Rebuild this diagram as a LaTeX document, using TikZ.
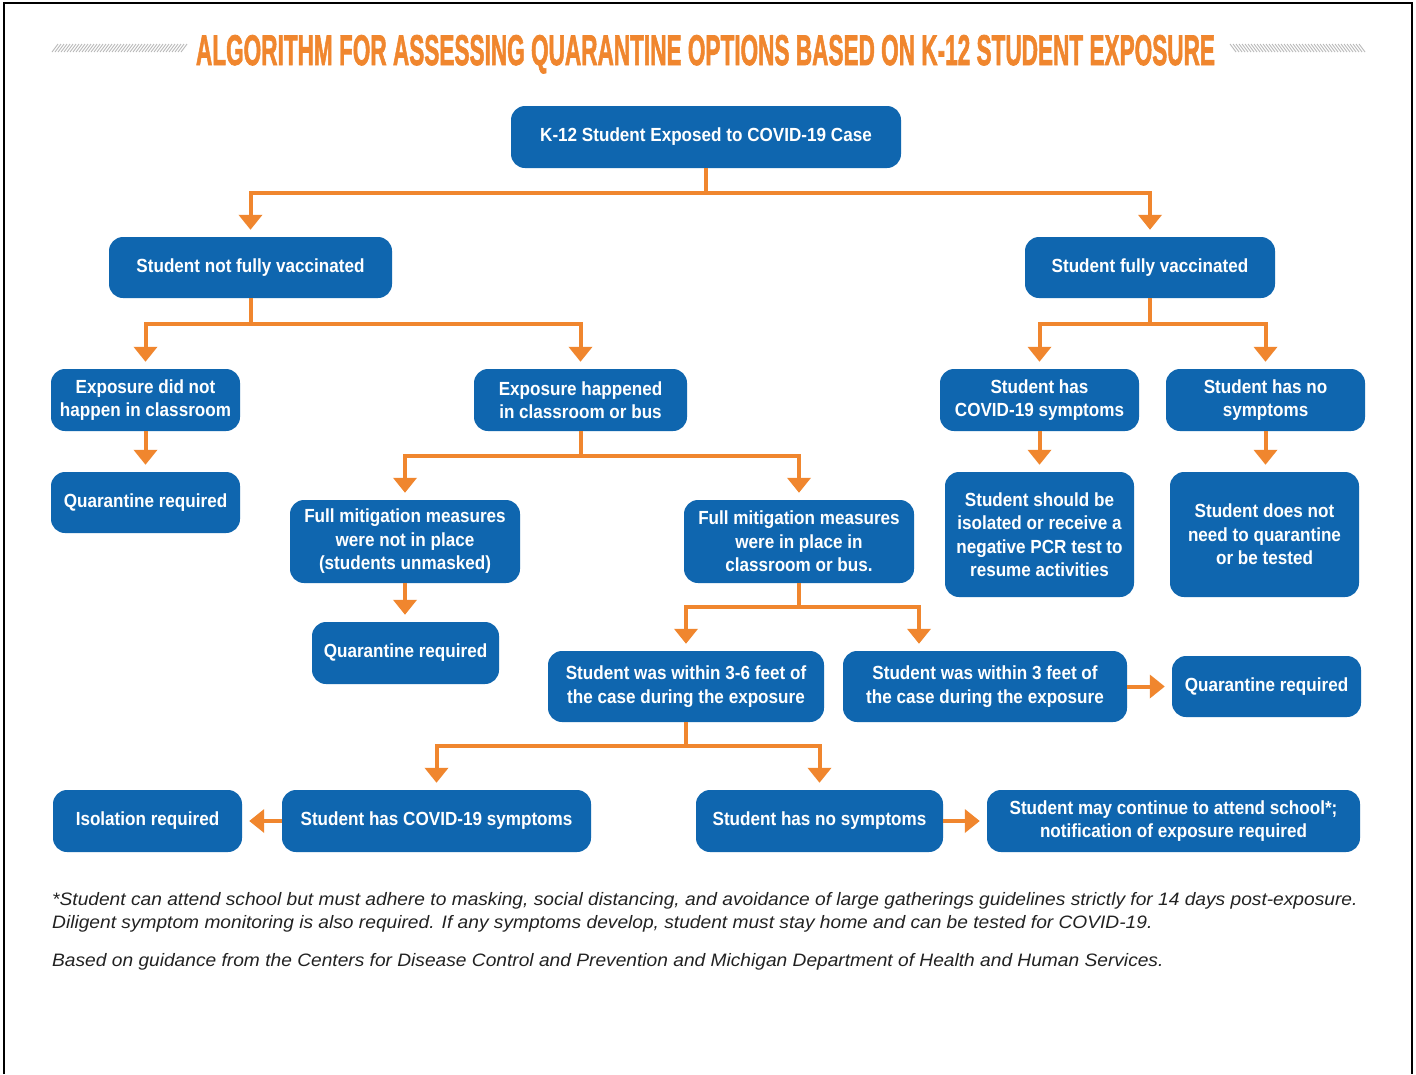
\documentclass[tikz,border=0pt]{standalone}
\usepackage{fontspec}
\usetikzlibrary{arrows.meta}
\setmainfont{Liberation Sans}
\newfontfamily\boxfam[FakeStretch=0.9]{Liberation Sans}
\newfontfamily\notefam[FakeStretch=1.065]{Liberation Sans}
\newfontfamily\titlefam[FakeBold=2]{Liberation Sans Bold}
\definecolor{nblue}{HTML}{0F66AF}
\definecolor{norange}{HTML}{F0862E}
\definecolor{ntext}{HTML}{222222}
\tikzset{
  box/.style={rectangle, rounded corners=14pt, fill=nblue, text=white,
    font=\boxfam\bfseries\fontsize{19}{23.5}\selectfont, align=center, inner sep=0pt},
  arr/.style={draw=norange, line width=4pt, -{Triangle[width=23pt,length=15pt]}, shorten >=7pt},
  note/.style={anchor=base west, inner sep=0pt, text=ntext, font=\notefam\itshape\fontsize{18}{23}\selectfont},
  hatch/.style={draw=gray!55, line width=0.9pt}
}
\begin{document}
\begin{tikzpicture}[x=1pt,y=-1pt]
\useasboundingbox (0,0) rectangle (1416,1074);
\fill[white] (0,0) rectangle (1416,1074);
\draw[black, line width=2pt] (4,1074) -- (4,3) -- (1412,3) -- (1412,1074);
% title
\node[inner sep=0pt, anchor=base, text=norange] (title) at (705.5,65)
  {\resizebox{1019pt}{30pt}{\titlefam ALGORITHM FOR ASSESSING QUARANTINE OPTIONS BASED ON K-12 STUDENT EXPOSURE}};
\foreach \i in {0,...,43} {\draw[hatch] (52+3*\i,52) -- (58+3*\i,44);}
\foreach \i in {0,...,43} {\draw[hatch] (1230+3*\i,44) -- (1236+3*\i,52);}
% nodes
\node[box, minimum width=390pt, minimum height=62pt] (root) at (706,137) {K-12 Student Exposed to COVID-19 Case};
\node[box, minimum width=283pt, minimum height=61pt] (nv) at (250.5,267.5) {Student not fully vaccinated};
\node[box, minimum width=250pt, minimum height=61pt] (fv) at (1150,267.5) {Student fully vaccinated};
\node[box, minimum width=189pt, minimum height=62pt] (ednh) at (145.5,400) {Exposure did not\\happen in classroom};
\node[box, minimum width=213pt, minimum height=62pt] (eh) at (580.5,400) {Exposure happened\\in classroom or bus};
\node[box, minimum width=199pt, minimum height=62pt] (fvs) at (1039.5,400) {Student has\\COVID-19 symptoms};
\node[box, minimum width=199pt, minimum height=62pt] (fvn) at (1265.5,400) {Student has no\\symptoms};
\node[box, minimum width=189pt, minimum height=61pt] (q1) at (145.5,502.5) {Quarantine required};
\node[box, minimum width=230pt, minimum height=83pt] (fmn) at (405,541.5) {Full mitigation measures\\were not in place\\(students unmasked)};
\node[box, minimum width=230pt, minimum height=83pt] (fmi) at (799,541.5) {Full mitigation measures\\were in place in\\classroom or bus.};
\node[box, minimum width=189pt, minimum height=125pt] (iso1) at (1039.5,534.5) {Student should be\\isolated or receive a\\negative PCR test to\\resume activities};
\node[box, minimum width=189pt, minimum height=125pt] (nn) at (1264.5,534.5) {Student does not\\need to quarantine\\or be tested};
\node[box, minimum width=187pt, minimum height=62pt] (q2) at (405.5,653) {Quarantine required};
\node[box, minimum width=276pt, minimum height=71pt] (w36) at (686,686.5) {Student was within 3-6 feet of\\the case during the exposure};
\node[box, minimum width=284pt, minimum height=71pt] (w3) at (985,686.5) {Student was within 3 feet of\\the case during the exposure};
\node[box, minimum width=189pt, minimum height=61pt] (q3) at (1266.5,686.5) {Quarantine required};
\node[box, minimum width=189pt, minimum height=62pt] (ir) at (147.5,821) {Isolation required};
\node[box, minimum width=309pt, minimum height=62pt] (hs2) at (436.5,821) {Student has COVID-19 symptoms};
\node[box, minimum width=247pt, minimum height=62pt] (ns2) at (819.5,821) {Student has no symptoms};
\node[box, minimum width=373pt, minimum height=62pt] (mc) at (1173.5,821) {Student may continue to attend school*;\\notification of exposure required};
% connectors
\draw[arr] (root.south) -- ++(0,25) -| (nv.north);
\draw[arr] (root.south) -- ++(0,25) -| (fv.north);
\draw[arr] (nv.south) -- ++(0,26) -| (ednh.north);
\draw[arr] (nv.south) -- ++(0,26) -| (eh.north);
\draw[arr] (fv.south) -- ++(0,26) -| (fvs.north);
\draw[arr] (fv.south) -- ++(0,26) -| (fvn.north);
\draw[arr] (ednh.south) -- (q1.north);
\draw[arr] (eh.south) -- ++(0,25) -| (fmn.north);
\draw[arr] (eh.south) -- ++(0,25) -| (fmi.north);
\draw[arr] (fvs.south) -- (iso1.north -| fvs.south);
\draw[arr] (fvn.south) -- (nn.north -| fvn.south);
\draw[arr] (fmn.south) -- (q2.north -| fmn.south);
\coordinate (w3in) at ([xshift=-66pt]w3.north);
\draw[arr] (fmi.south) -- ++(0,24) -| (w36.north);
\draw[arr] (fmi.south) -- ++(0,24) -| (w3in);
\draw[arr] (w3.east) -- (q3.west |- w3.east);
\draw[arr] (w36.south) -- ++(0,24) -| (hs2.north);
\draw[arr] (w36.south) -- ++(0,24) -| (ns2.north);
\draw[arr] (hs2.west) -- (ir.east);
\draw[arr] (ns2.east) -- (mc.west);
% notes
\node[note] (n1) at (52,905) {*Student can attend school but must adhere to masking, social distancing, and avoidance of large gatherings guidelines strictly for 14 days post-exposure.};
\node[note] (n2) at (52,928) {Diligent symptom monitoring is also required. If any symptoms develop, student must stay home and can be tested for COVID-19.};
\node[note] (n3) at (52,966) {Based on guidance from the Centers for Disease Control and Prevention and Michigan Department of Health and Human Services.};
\end{tikzpicture}
\end{document}
